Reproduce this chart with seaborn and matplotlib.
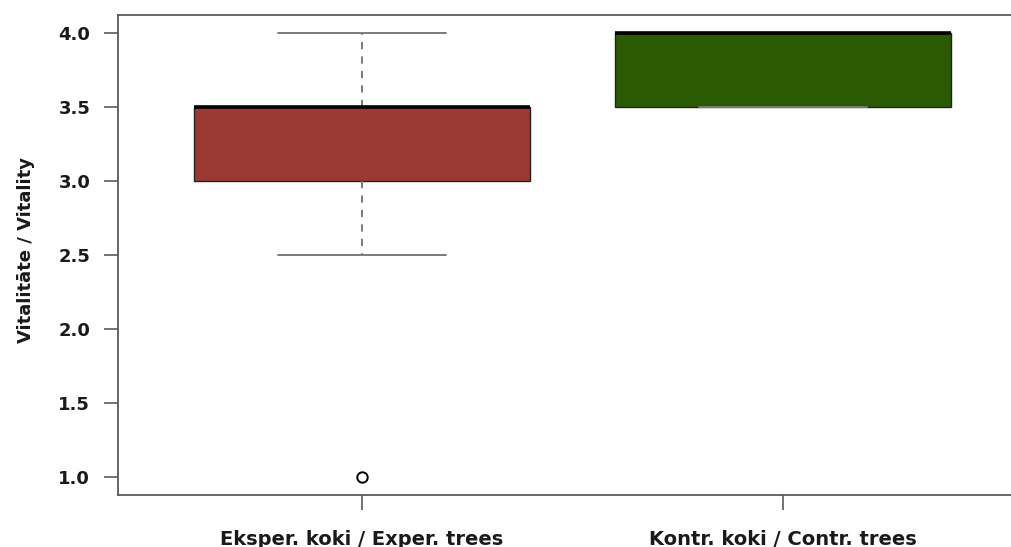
import numpy as np
import pandas as pd
import matplotlib
matplotlib.use("Agg")
import matplotlib.pyplot as plt
import seaborn as sns

# Vitality scores per tree group
groups = ["Eksper. koki / Exper. trees", "Kontr. koki / Contr. trees"]
exper_scores = [1.0, 2.5, 3.0, 3.0, 3.0, 3.5, 3.5, 3.5, 3.5, 3.5, 3.5, 4.0]
contr_scores = [3.5, 3.5, 3.5, 4.0, 4.0, 4.0, 4.0, 4.0, 4.0]
box_colors = ["#9A3A33", "#2A5B04"]
y_ticks = [1.0, 1.5, 2.0, 2.5, 3.0, 3.5, 4.0]
y_label = "Vitalitāte / Vitality"

df = pd.DataFrame({
    "group": [groups[0]] * len(exper_scores) + [groups[1]] * len(contr_scores),
    "vitality": exper_scores + contr_scores,
})

sns.set_style("white")
plt.rcParams["font.family"] = ["DejaVu Sans"]
plt.rcParams["font.weight"] = "bold"

fig = plt.figure(figsize=(10.12, 5.47), dpi=100)
# plotting frame is open on the right and runs to the figure edge
ax = fig.add_axes([118 / 1012, 52 / 547, 894 / 1012, 480 / 547])
ax.patch.set_facecolor("none")
ax.patch.set_edgecolor("none")

frame_col = "#5a5a5a"
sns.boxplot(
    data=df, x="group", y="vitality", hue="group", order=groups,
    hue_order=groups, palette=box_colors, saturation=1, legend=False,
    width=0.8, whis=1.5, ax=ax, linecolor="#222222", linewidth=1.0,
    fliersize=7.5,
    boxprops={"edgecolor": "#222222", "linewidth": 1.0},
    medianprops={"color": "black", "linewidth": 2.6, "solid_capstyle": "butt"},
    whiskerprops={"color": "#6e6e6e", "linewidth": 1.3, "linestyle": (0, (4, 4))},
    capprops={"color": "#7a7a7a", "linewidth": 1.4},
    flierprops={"marker": "o", "markerfacecolor": "white",
                "markeredgecolor": "black", "markeredgewidth": 1.4},
)

ax.set_xlim(-0.58, 1.544)
ax.set_ylim(0.88, 4.12)
ax.set_yticks(y_ticks)
ax.set_yticklabels([f"{v:.1f}" for v in y_ticks], fontsize=13, fontweight="bold")
ax.set_xticks([0, 1])
ax.set_xticklabels(groups, fontsize=14, fontweight="bold")
ax.set_xlabel("")
ax.set_ylabel(y_label, fontsize=13, fontweight="bold")
ax.yaxis.set_label_coords(-0.093, 0.51)

for side in ["left", "top", "bottom"]:
    ax.spines[side].set_visible(True)
    ax.spines[side].set_linewidth(1.3)
    ax.spines[side].set_color(frame_col)
ax.spines["right"].set_visible(False)
ax.spines["right"].set_linewidth(0)
ax.spines["right"].set_color("none")

ax.tick_params(axis="y", which="major", left=True, right=False, direction="out",
               length=10, width=1.2, color=frame_col, pad=10, labelcolor="#1a1a1a")
ax.tick_params(axis="x", which="major", bottom=True, top=False, direction="out",
               length=11, width=1.2, color=frame_col, pad=14, labelcolor="#1a1a1a")
ax.yaxis.label.set_color("#1a1a1a")
ax.grid(False)

fig.savefig("out.png", dpi=100, facecolor="white")
